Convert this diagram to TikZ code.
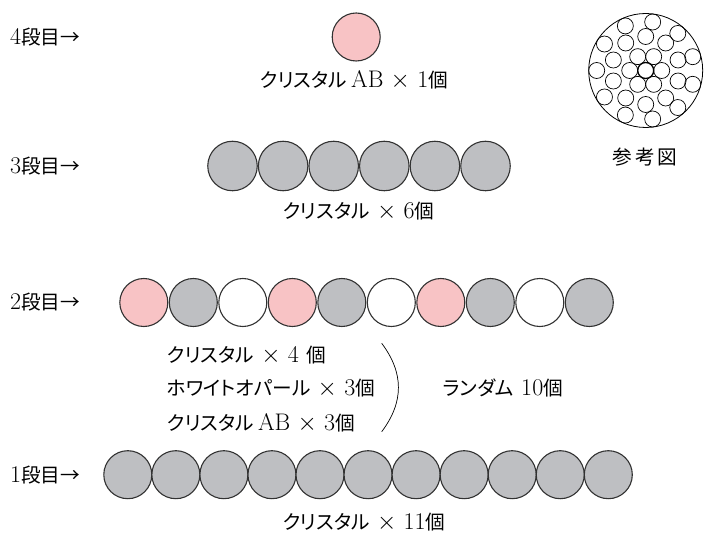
\documentclass[tikz,border=0pt]{standalone}
\usepackage{fontspec}
\newfontfamily\jp{Noto Sans CJK JP}[RawFeature=+palt,Scale=0.82]
\definecolor{beadpink}{RGB}{248,195,197}
\definecolor{beadgray}{RGB}{190,191,194}
\definecolor{beadline}{RGB}{50,50,50}
\tikzset{
  bead/.style={circle,draw=beadline,line width=1.1pt,minimum size=48pt,inner sep=0pt},
  crystal/.style={bead,fill=beadgray},
  ab/.style={bead,fill=beadpink},
  opal/.style={bead,fill=white},
  fbead/.style={circle,draw=black,line width=0.7pt,minimum size=16pt,inner sep=0pt},
  lbl/.style={font=\fontsize{24}{28}\selectfont,inner sep=0pt}
}
\begin{document}
\begin{tikzpicture}[x=1pt,y=-1pt]
   \useasboundingbox (0,0) rectangle (704,534);
   % row labels
   \node[lbl,anchor=west] (s4) at (10,37) {4{\jp 段目→}};
   \node[lbl,anchor=west] (s3) at (10,166) {3{\jp 段目→}};
   \node[lbl,anchor=west] (s2) at (10,302.5) {2{\jp 段目→}};
   \node[lbl,anchor=west] (s1) at (10,475) {1{\jp 段目→}};
   % 4th row
   \node[ab] (c4) at (356.2,37) {};
   \node[lbl] (t4) at (354,80) {{\jp クリスタル}\,AB $\times$ 1{\jp 個}};
   % 3rd row
   \foreach \k in {0,...,5}
     \node[crystal,minimum size=49.5pt] (c3-\k) at (232.5+50.6*\k,166) {};
   \node[lbl] (t3) at (358.5,211) {{\jp クリスタル} $\times$ 6{\jp 個}};
   % 2nd row
   \foreach \s [count=\k from 0] in {ab,crystal,opal,ab,crystal,opal,ab,crystal,opal,crystal}
     \node[\s] (c2-\k) at (143.8+49.5*\k,302.5) {};
   \node[lbl,anchor=west] (t2a) at (166.7,355) {{\jp クリスタル} $\times$ 4 {\jp 個}};
   \node[lbl,anchor=west] (t2b) at (166.7,388.3) {{\jp ホワイトオパール} $\times$ 3{\jp 個}};
   \node[lbl,anchor=west] (t2c) at (166.7,423.3) {{\jp クリスタル}\,AB $\times$ 3{\jp 個}};
   \coordinate (brt) at (381.7,343.3);
   \coordinate (brb) at (381.7,431.7);
   \draw[line width=0.7pt] (brt) .. controls (404,373) and (404,402) .. (brb);
   \node[lbl] (t2) at (503,388.3) {{\jp ランダム} 10{\jp 個}};
   % 1st row
   \foreach \k in {0,...,10}
     \node[crystal] (c1-\k) at (127.8+48.05*\k,474.7) {};
   \node[lbl] (t1) at (364,522) {{\jp クリスタル} $\times$ 11{\jp 個}};
   % reference figure
   \node[circle,draw=black,line width=0.8pt,minimum size=114pt,inner sep=0pt] (fig) at (645.7,70.5) {};
   \node[fbead,line width=1.3pt] (f0) at (fig) {};
   \foreach \a in {0,60,...,300}
     \node[fbead] (f1-\a) at ([shift={(\a:16)}]fig) {};
   \foreach \a in {18,54,...,342}
     \node[fbead] (f2-\a) at ([shift={(\a:34)}]fig) {};
   \foreach \k [evaluate=\k as \a using 180-\k*360/11] in {0,...,10}
     \node[fbead] (f3-\k) at ([shift={(\a:49)}]fig) {};
   \node[lbl] (tf) at (645,157) {\jp 参\hspace{3pt}考\hspace{3pt}図};
\end{tikzpicture}
\end{document}
